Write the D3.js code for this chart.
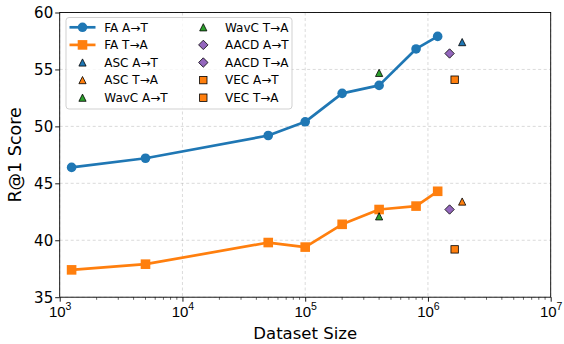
<!DOCTYPE html>
<html><head><meta charset="utf-8">
<script src="https://cdn.jsdelivr.net/npm/d3@7"></script>
<style>
html,body{margin:0;padding:0;background:#fff;}
svg{display:block;font-family:"DejaVu Sans",sans-serif;}
</style></head>
<body>
<svg id="chart" width="564" height="344"></svg>
<script>
// ---- data ----
const faSizes = [1.25e3, 5e3, 5e4, 1e5, 2e5, 4e5, 8e5, 1.2e6];
const faAT = [46.4, 47.2, 49.2, 50.4, 52.9, 53.6, 56.8, 57.9];
const faTA = [37.4, 37.9, 39.8, 39.4, 41.4, 42.7, 43.0, 44.3];
const baselineNames = ["ASC", "WavC", "AACD", "VEC"];
const baselineSizes = [1.9e6, 4e5, 1.5e6, 1.65e6];
const baselineAT = [57.4, 42.1, 56.4, 54.1];
const baselineTA = [43.4, 54.7, 42.7, 39.2];
const xTickExps = [3, 4, 5, 6, 7];
const yTicks = [35, 40, 45, 50, 55, 60];

const C = {blue:"#1f77b4", orange:"#ff7f0e", green:"#2ca02c", purple:"#9467bd"};
const baselineShape = {ASC:"tri", WavC:"tri", AACD:"diamond", VEC:"square"};
const baselineColorAT = {ASC:C.blue, WavC:C.green, AACD:C.purple, VEC:C.orange};
const baselineColorTA = {ASC:C.orange, WavC:C.green, AACD:C.purple, VEC:C.orange};

const svg = d3.select("#chart");
const L = 59.7, R = 550.7, T = 12.5, B = 297.2;
const x = d3.scaleLog().domain([1e3, 1e7]).range([L, R]);
const y = d3.scaleLinear().domain([35, 60]).range([B, T]);

// grid
const grid = svg.append("g");
xTickExps.forEach(e => {
  grid.append("line").attr("x1", x(10**e)).attr("x2", x(10**e)).attr("y1", T).attr("y2", B)
    .attr("stroke", "#b0b0b0").attr("stroke-opacity", 0.6).attr("stroke-width", 0.8).attr("stroke-dasharray", "3,2.5");
});
yTicks.forEach(v => {
  grid.append("line").attr("x1", L).attr("x2", R).attr("y1", y(v)).attr("y2", y(v))
    .attr("stroke", "#b0b0b0").attr("stroke-opacity", 0.6).attr("stroke-width", 0.8).attr("stroke-dasharray", "3,2.5");
});

// axes
const xAxis = d3.axisBottom(x).tickValues(xTickExps.map(e => 10**e)).tickSize(4.5).tickPadding(3).tickFormat(() => "");
const gx = svg.append("g").attr("transform", `translate(0,${B})`).call(xAxis);
gx.select(".domain").remove();
gx.selectAll(".tick line").attr("stroke", "#000").attr("stroke-width", 0.9);
gx.selectAll(".tick").each(function(d) {
  const e = Math.round(Math.log10(d));
  const t = d3.select(this).append("text").attr("y", 19.7).attr("fill", "#000")
    .attr("text-anchor", "middle").style("font-size", "15px");
  t.append("tspan").text("10");
  t.append("tspan").attr("dy", -6.5).style("font-size", "10.5px").text(e);
});
// minor ticks
const minors = [];
for (let e = 3; e < 7; e++) for (let k = 2; k <= 9; k++) minors.push(k * 10**e);
svg.append("g").selectAll("line").data(minors).join("line")
  .attr("x1", d => x(d)).attr("x2", d => x(d)).attr("y1", B).attr("y2", B + 2.6)
  .attr("stroke", "#000").attr("stroke-width", 0.6);

const yAxis = d3.axisLeft(y).tickValues(yTicks).tickSize(4.5).tickPadding(2);
const gy = svg.append("g").attr("transform", `translate(${L},0)`).call(yAxis);
gy.select(".domain").remove();
gy.selectAll(".tick line").attr("stroke", "#000").attr("stroke-width", 0.9);
gy.selectAll(".tick text").attr("fill", "#000").style("font-size", "15px").attr("font-family", "DejaVu Sans");

// frame
svg.append("rect").attr("x", L).attr("y", T).attr("width", R - L).attr("height", B - T)
  .attr("fill", "none").attr("stroke", "#000").attr("stroke-width", 0.9);

// labels
svg.append("text").attr("x", (L + R) / 2).attr("y", 339).attr("text-anchor", "middle")
  .style("font-size", "16.5px").text("Dataset Size");
svg.append("text").attr("transform", `translate(21,${(T + B) / 2}) rotate(-90)`).attr("text-anchor", "middle")
  .style("font-size", "17.5px").text("R@1 Score");

// marker helpers
function marker(g, shape, cx, cy, color, s, edge) {
  let el;
  if (shape === "circle") el = g.append("circle").attr("cx", cx).attr("cy", cy).attr("r", s);
  else if (shape === "square") el = g.append("rect").attr("x", cx - s).attr("y", cy - s).attr("width", 2 * s).attr("height", 2 * s);
  else if (shape === "tri") el = g.append("path").attr("d", `M${cx},${cy - s}L${cx + s},${cy + s}L${cx - s},${cy + s}Z`);
  else if (shape === "diamond") el = g.append("path").attr("d", `M${cx},${cy - s}L${cx + s},${cy}L${cx},${cy + s}L${cx - s},${cy}Z`);
  el.attr("fill", color);
  if (edge) el.attr("stroke", "#000").attr("stroke-width", 0.8);
  else el.attr("stroke", "none");
  return el;
}

// FA lines
const line = d3.line().x(d => x(d[0])).y(d => y(d[1]));
const plot = svg.append("g");
const seriesFA = [
  {vals: faAT, color: C.blue, shape: "circle", s: 4.8},
  {vals: faTA, color: C.orange, shape: "square", s: 4.8}
];
seriesFA.forEach(sr => {
  const pts = faSizes.map((s, i) => [s, sr.vals[i]]);
  plot.append("path").datum(pts).attr("d", line).attr("fill", "none")
    .attr("stroke", sr.color).attr("stroke-width", 2.7).attr("stroke-linejoin", "round");
  pts.forEach(p => marker(plot, sr.shape, x(p[0]), y(p[1]), sr.color, sr.s, false));
});

// baselines
const bsize = {tri: 3.6, diamond: 4.7, square: 3.7};
baselineNames.forEach((n, i) => {
  const sh = baselineShape[n];
  marker(plot, sh, x(baselineSizes[i]), y(baselineAT[i]), baselineColorAT[n], bsize[sh], true);
  marker(plot, sh, x(baselineSizes[i]), y(baselineTA[i]), baselineColorTA[n], bsize[sh], true);
});

// legend
const lg = svg.append("g");
lg.append("rect").attr("x", 66).attr("y", 17.5).attr("width", 226).attr("height", 91.5).attr("rx", 3)
  .attr("fill", "#fff").attr("fill-opacity", 0.8).attr("stroke", "#cccccc").attr("stroke-width", 0.9);
const legendItems = [
  {label: "FA A→T", kind: "line", color: C.blue, shape: "circle"},
  {label: "FA T→A", kind: "line", color: C.orange, shape: "square"},
  ...baselineNames.flatMap(n => [
    {label: n + " A→T", kind: "pt", color: baselineColorAT[n], shape: baselineShape[n]},
    {label: n + " T→A", kind: "pt", color: baselineColorTA[n], shape: baselineShape[n]}
  ])
];
legendItems.forEach((it, i) => {
  const col = Math.floor(i / 5), row = i % 5;
  const mx = col === 0 ? 82.5 : 203.3;
  const tx = col === 0 ? 104.3 : 225;
  const cy = 27.3 + row * 17.6;
  if (it.kind === "line") {
    lg.append("line").attr("x1", 69.5).attr("x2", 95.5).attr("y1", cy).attr("y2", cy)
      .attr("stroke", it.color).attr("stroke-width", 2.7);
    marker(lg, it.shape, mx, cy, it.color, 4.8, false);
  } else {
    marker(lg, it.shape, mx, cy, it.color, bsize[it.shape], true);
  }
  lg.append("text").attr("x", tx).attr("y", cy).attr("dy", "0.36em").style("font-size", "12px").text(it.label);
});
</script>
</body></html>
